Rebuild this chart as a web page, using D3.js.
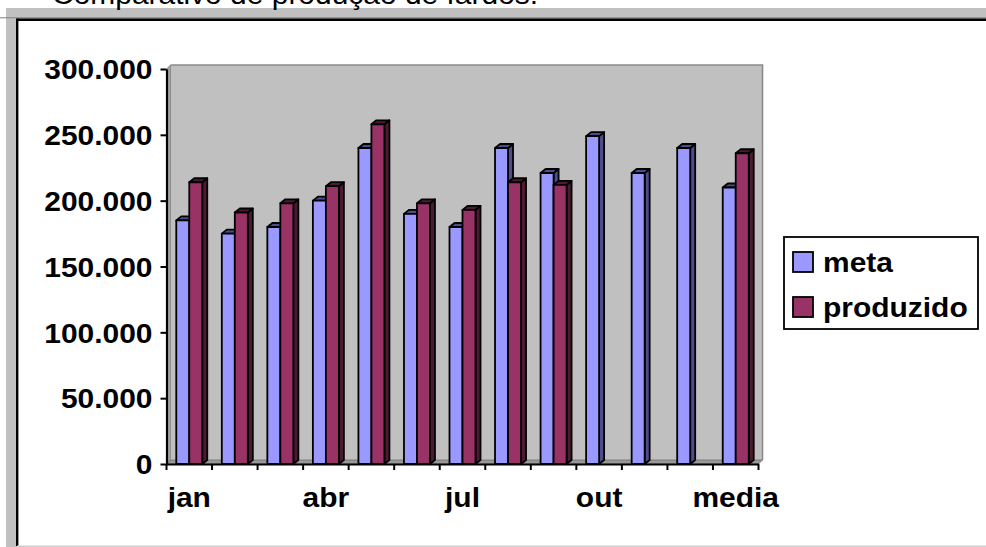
<!DOCTYPE html>
<html>
<head>
<meta charset="utf-8">
<script src="https://cdn.jsdelivr.net/npm/d3@7"></script>
<style>
  html, body { margin: 0; padding: 0; background: #fff; }
  svg { display: block; font-family: Arial, "Liberation Sans", sans-serif; }
</style>
</head>
<body>
<svg id="chart" width="986" height="547"></svg>
<script>
// Monthly goal vs produced bales, plus the average column
const categories = ["jan","fev","mar","abr","mai","jun","jul","ago","set","out","nov","dez","media"];
const tickLabels = ["jan","","","abr","","","jul","","","out","","","media"];
const seriesNames = ["meta","produzido"];
const meta = [185000,175000,180000,200000,240000,190000,180000,240000,221000,249000,221000,240000,210000];
const produzido = [214000,191000,198000,211000,258000,198000,193000,214000,212000,null,null,null,236000];
const yTicks = [0,50000,100000,150000,200000,250000,300000];
const titleText = "Comparativo de produção de fardos.";

const colors = { meta: "#9999ff", produzido: "#993366" };
const shades = { meta: "#4d4d8c", produzido: "#4d1a33" };

const svg = d3.select("#chart");
const W = 986, H = 547;
const stretch = 1.07;       // slightly wide lettering
const fontSize = 28;

// window-like frame around the chart area
svg.append("rect").attr("x", 6).attr("y", 8).attr("width", W - 6).attr("height", H - 8).attr("fill", "#c0c0c0");
svg.append("rect").attr("x", 17).attr("y", 19).attr("width", W - 17).attr("height", 527).attr("fill", "#fff");
svg.append("line").attr("x1", 0).attr("x2", W).attr("y1", 17.8).attr("y2", 17.8).attr("stroke", "#808080").attr("stroke-width", 1);
svg.append("line").attr("x1", 17).attr("x2", W).attr("y1", 19.7).attr("y2", 19.7).attr("stroke", "#000").attr("stroke-width", 2.6);
svg.append("line").attr("x1", 17.2).attr("x2", 17.2).attr("y1", 18.5).attr("y2", 546).attr("stroke", "#000").attr("stroke-width", 2.4);
svg.append("line").attr("x1", 17).attr("x2", W).attr("y1", 546.3).attr("y2", 546.3).attr("stroke", "#d0d0d0").attr("stroke-width", 1.4);

// title, cut off by the top of the window
svg.append("text")
  .attr("transform", `translate(52,3.5) scale(${stretch},1)`)
  .attr("font-size", fontSize)
  .attr("fill", "#000")
  .text(titleText);

// scales
const y = d3.scaleLinear().domain([0, 300000]).range([464, 69]);
const x = d3.scaleBand().domain(categories).range([166.5, 758.5]);
const barW = 13;
const xs = d3.scaleBand().domain(seriesNames).range([0, barW * 2]);
const groupOffset = (x.bandwidth() - barW * 2) / 2;
const depth = 4;            // wall depth
const bdx = 5, bdy = 4;     // bar depth

const x0 = x.range()[0], x1 = x.range()[1];
const yBase = y(0), yTop = y(300000);

// back wall, side wall and floor
svg.append("rect")
  .attr("x", x0 + depth).attr("y", yTop - depth)
  .attr("width", x1 - x0).attr("height", yBase - yTop)
  .attr("fill", "#c0c0c0");
svg.append("polygon")
  .attr("points", [[x0, yTop], [x0 + depth, yTop - depth], [x0 + depth, yBase - depth], [x0, yBase]].join(" "))
  .attr("fill", "#a4a4a4").attr("stroke", "#808080").attr("stroke-width", 0.8);
svg.append("polygon")
  .attr("points", [[x0, yBase], [x0 + depth, yBase - depth], [x1 + depth, yBase - depth], [x1, yBase]].join(" "))
  .attr("fill", "#999999").attr("stroke", "#707070").attr("stroke-width", 0.8);
svg.append("polyline")
  .attr("points", [[x0 + depth, yTop - depth], [x1 + depth, yTop - depth], [x1 + depth, yBase - depth]].join(" "))
  .attr("fill", "none").attr("stroke", "#8a8a8a").attr("stroke-width", 1.6);

// 3D columns
const rows = categories.map((c, i) => ({ c, meta: meta[i], produzido: produzido[i] }));
const bars = svg.append("g");
rows.forEach(r => {
  seriesNames.forEach(s => {
    const v = r[s];
    if (v == null) return;
    const bx = x(r.c) + groupOffset + xs(s);
    const w = xs.bandwidth();
    const ty = y(v);
    const g = bars.append("g").attr("stroke", "#000").attr("stroke-width", 1.8).attr("stroke-linejoin", "round");
    g.append("polygon")
      .attr("points", [[bx + w, ty], [bx + w + bdx, ty - bdy], [bx + w + bdx, yBase - bdy], [bx + w, yBase]].join(" "))
      .attr("fill", shades[s]);
    g.append("polygon")
      .attr("points", [[bx, ty], [bx + bdx, ty - bdy], [bx + w + bdx, ty - bdy], [bx + w, ty]].join(" "))
      .attr("fill", shades[s]);
    g.append("rect")
      .attr("x", bx).attr("y", ty).attr("width", w).attr("height", yBase - ty)
      .attr("fill", colors[s]);
  });
});

// axes
const ptBR = d3.formatLocale({ decimal: ",", thousands: ".", grouping: [3], currency: ["R$", ""] });
const fmt = ptBR.format(",");

const yAxis = svg.append("g")
  .attr("transform", `translate(${x0},0)`)
  .call(d3.axisLeft(y).tickValues(yTicks).tickFormat(fmt).tickSize(6).tickSizeOuter(0).tickPadding(8));
yAxis.select(".domain").attr("stroke", "#000").attr("stroke-width", 2.2);
yAxis.selectAll(".tick line").attr("stroke", "#000").attr("stroke-width", 2);
yAxis.selectAll(".tick text")
  .attr("font-family", "Arial, 'Liberation Sans', sans-serif")
  .attr("font-size", fontSize).attr("font-weight", "bold").attr("fill", "#000")
  .attr("dy", "0.35em").attr("x", null)
  .attr("transform", `translate(-14,0) scale(${stretch},1)`);

const xAxis = svg.append("g")
  .attr("transform", `translate(0,${yBase})`)
  .call(d3.axisBottom(x).tickFormat((d, i) => tickLabels[i]).tickSize(0).tickSizeOuter(0).tickPadding(0));
xAxis.select(".domain").attr("stroke", "#000").attr("stroke-width", 2.2);
xAxis.selectAll(".tick text")
  .attr("font-family", "Arial, 'Liberation Sans', sans-serif")
  .attr("font-size", fontSize).attr("font-weight", "bold").attr("fill", "#000")
  .attr("y", null).attr("dy", null)
  .attr("transform", `translate(0,43) scale(${stretch},1)`);

// tick marks on category boundaries
const bounds = categories.map(c => x(c)).concat([x1]);
xAxis.selectAll(".bound").data(bounds).enter().append("line")
  .attr("class", "bound")
  .attr("x1", d => d).attr("x2", d => d).attr("y1", 0).attr("y2", 6)
  .attr("stroke", "#000").attr("stroke-width", 2);

// legend
const legend = svg.append("g").attr("transform", "translate(784,237)");
legend.append("rect").attr("width", 194).attr("height", 92)
  .attr("fill", "#fff").attr("stroke", "#000").attr("stroke-width", 1.8);
seriesNames.forEach((s, i) => {
  const row = legend.append("g").attr("transform", `translate(0,${15 + i * 45})`);
  row.append("rect").attr("x", 9).attr("y", 0).attr("width", 20).attr("height", 20)
    .attr("fill", colors[s]).attr("stroke", "#000").attr("stroke-width", 1.8);
  row.append("text")
    .attr("transform", `translate(39,20) scale(${stretch},1)`)
    .attr("font-size", fontSize).attr("font-weight", "bold").attr("fill", "#000")
    .text(s);
});
</script>
</body>
</html>
